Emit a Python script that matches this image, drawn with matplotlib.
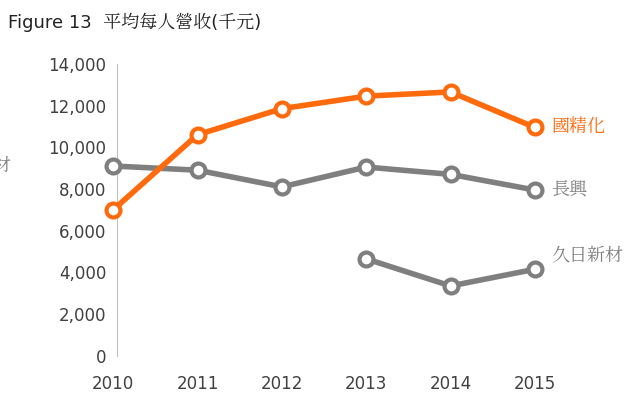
import matplotlib.pyplot as plt
from matplotlib import font_manager

cjk = [f.name for f in font_manager.fontManager.ttflist if 'CJK' in f.name]
tc = [n for n in cjk if 'TC' in n] or cjk
plt.rcParams['font.family'] = ['DejaVu Sans'] + tc[:1]

years = [2010, 2011, 2012, 2013, 2014, 2015]
guojing = [7000, 10600, 11850, 12450, 12650, 10950]
changxing = [9100, 8900, 8100, 9050, 8700, 7950]
jiuri_years = [2013, 2014, 2015]
jiuri = [4650, 3350, 4150]
yticks = list(range(0, 14001, 2000))

orange = '#FF6A0D'
gray = '#7F7F7F'

fig = plt.figure(figsize=(6.36, 4.09), dpi=100)
ax = fig.add_axes([0.178, 0.130, 0.663, 0.714])

for x, y, c in [(years, changxing, gray), (jiuri_years, jiuri, gray), (years, guojing, orange)]:
    ax.plot(x, y, color=c, lw=4, marker='o', ms=10, mfc='white', mec=c, mew=3, clip_on=False, zorder=3)

ax.set_xlim(2010, 2015)
ax.set_ylim(0, 14000)
ax.set_yticks(yticks)
ax.set_yticklabels([f'{v:,}' for v in yticks])
ax.set_xticks(years)
ax.set_xticklabels([str(y) for y in years])
ax.tick_params(length=0, pad=8, labelsize=12, labelcolor='#404040')
ax.tick_params(axis='x', pad=14)
for s in ['top', 'right', 'bottom']:
    ax.spines[s].set_visible(False)
ax.spines['left'].set_color('#BFBFBF')
ax.spines['left'].set_position(('data', 2010.05))

ax.text(2015.2, guojing[-1], '國精化', color=orange, fontsize=13, va='center')
ax.text(2015.2, changxing[-1], '長興', color=gray, fontsize=13, va='center')
ax.text(2015.2, 4800, '久日新材', color=gray, fontsize=13, va='center')

fig.text(0.012, 0.945, 'Figure 13  平均每人營收(千元)', fontsize=13, va='center', color='#222222')
fig.text(-0.012, 0.595, '材', fontsize=13, va='center', color=gray)

fig.savefig('out.png', dpi=100)
